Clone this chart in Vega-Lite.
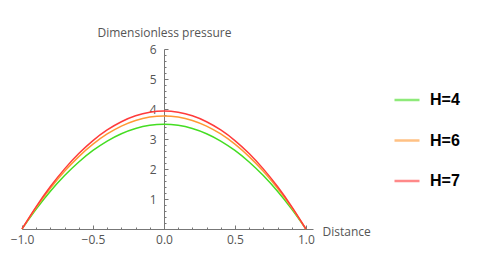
{
  "$schema": "https://vega.github.io/schema/vega-lite/v6.json",
  "autosize": "none",
  "padding": {"left": 22, "top": 49, "right": 167, "bottom": 32},
  "width": 291,
  "height": 180,
  "config": {"view": {"stroke": null}},
  "data": {"values": [
    {"x": -1.0, "H4": 0, "H6": 0, "H7": 0},
    {"x": -0.9, "H4": 0.663, "H6": 0.716, "H7": 0.747},
    {"x": -0.8, "H4": 1.256, "H6": 1.357, "H7": 1.415},
    {"x": -0.7, "H4": 1.780, "H6": 1.923, "H7": 2.004},
    {"x": -0.6, "H4": 2.234, "H6": 2.413, "H7": 2.515},
    {"x": -0.5, "H4": 2.618, "H6": 2.828, "H7": 2.948},
    {"x": -0.4, "H4": 2.932, "H6": 3.167, "H7": 3.301},
    {"x": -0.3, "H4": 3.176, "H6": 3.431, "H7": 3.576},
    {"x": -0.2, "H4": 3.350, "H6": 3.619, "H7": 3.773},
    {"x": -0.1, "H4": 3.455, "H6": 3.732, "H7": 3.891},
    {"x": 0.0, "H4": 3.49, "H6": 3.77, "H7": 3.93},
    {"x": 0.1, "H4": 3.455, "H6": 3.732, "H7": 3.891},
    {"x": 0.2, "H4": 3.350, "H6": 3.619, "H7": 3.773},
    {"x": 0.3, "H4": 3.176, "H6": 3.431, "H7": 3.576},
    {"x": 0.4, "H4": 2.932, "H6": 3.167, "H7": 3.301},
    {"x": 0.5, "H4": 2.618, "H6": 2.828, "H7": 2.948},
    {"x": 0.6, "H4": 2.234, "H6": 2.413, "H7": 2.515},
    {"x": 0.7, "H4": 1.780, "H6": 1.923, "H7": 2.004},
    {"x": 0.8, "H4": 1.256, "H6": 1.357, "H7": 1.415},
    {"x": 0.9, "H4": 0.663, "H6": 0.716, "H7": 0.747},
    {"x": 1.0, "H4": 0, "H6": 0, "H7": 0}
  ]},
  "transform": [{"fold": ["H4", "H6", "H7"], "as": ["H", "p"]}],
  "mark": {"type": "line", "interpolate": "monotone", "strokeWidth": 1.5, "clip": false},
  "encoding": {
    "x": {
      "field": "x", "type": "quantitative",
      "scale": {"domain": [-1, 1.05], "nice": false, "zero": false},
      "axis": {
        "grid": false,
        "values": [-1, -0.9, -0.8, -0.7, -0.6, -0.5, -0.4, -0.3, -0.2, -0.1, 0, 0.1, 0.2, 0.3, 0.4, 0.5, 0.6, 0.7, 0.8, 0.9, 1],
        "labelExpr": "abs(datum.value*2 - round(datum.value*2)) < 0.001 ? format(datum.value, '.1f') : ''",
        "labelFont": "Open Sans", "labelFontSize": 12, "labelColor": "#555555",
        "labelPadding": 9,
        "labelFlush": false, "labelOverlap": false,
        "tickSize": {"condition": {"test": "abs(datum.value*2 - round(datum.value*2)) < 0.001", "value": -4}, "value": -2},
        "tickColor": "#777777", "domainColor": "#777777", "tickWidth": 1,
        "title": "Distance", "titleFont": "Open Sans", "titleFontSize": 12, "titleFontWeight": "normal",
        "titleColor": "#555555", "titleAngle": 0, "titleAlign": "left", "titleBaseline": "middle",
        "titleX": 300, "titleY": 2
      }
    },
    "y": {
      "field": "p", "type": "quantitative",
      "scale": {"domain": [0, 6], "nice": false},
      "axis": {
        "grid": false, "offset": -142,
        "values": [0, 0.2, 0.4, 0.6, 0.8, 1, 1.2, 1.4, 1.6, 1.8, 2, 2.2, 2.4, 2.6, 2.8, 3, 3.2, 3.4, 3.6, 3.8, 4, 4.2, 4.4, 4.6, 4.8, 5, 5.2, 5.4, 5.6, 5.8, 6],
        "labelExpr": "datum.value > 0.5 && abs(datum.value - round(datum.value)) < 0.001 ? format(datum.value, 'd') : ''",
        "labelFont": "Open Sans", "labelFontSize": 12, "labelColor": "#555555",
        "labelPadding": 12,
        "labelFlush": false, "labelOverlap": false,
        "tickSize": {"condition": {"test": "abs(datum.value - round(datum.value)) < 0.001", "value": -4}, "value": -2},
        "tickColor": "#777777", "domainColor": "#777777", "tickWidth": 1,
        "title": "Dimensionless pressure", "titleFont": "Open Sans", "titleFontSize": 12, "titleFontWeight": "normal",
        "titleColor": "#555555", "titleAngle": 0, "titleAlign": "center", "titleBaseline": "bottom",
        "titleX": 0, "titleY": -10
      }
    },
    "color": {
      "field": "H", "type": "nominal",
      "scale": {"domain": ["H4", "H6", "H7"], "range": ["#44dd22", "#ff9933", "#ff3b3b"]},
      "legend": {
        "title": null, "orient": "none", "legendX": 371, "legendY": 37,
        "padding": 0, "symbolType": "stroke", "symbolSize": 625, "symbolStrokeWidth": 2.5,
        "symbolOpacity": 0.6, "rowPadding": 18.5, "labelOffset": 9,
        "labelExpr": "'H=' + slice(datum.label, 1)",
        "labelFont": "Liberation Sans", "labelFontSize": 16, "labelFontWeight": "bold", "labelColor": "#000000"
      }
    }
  }
}
